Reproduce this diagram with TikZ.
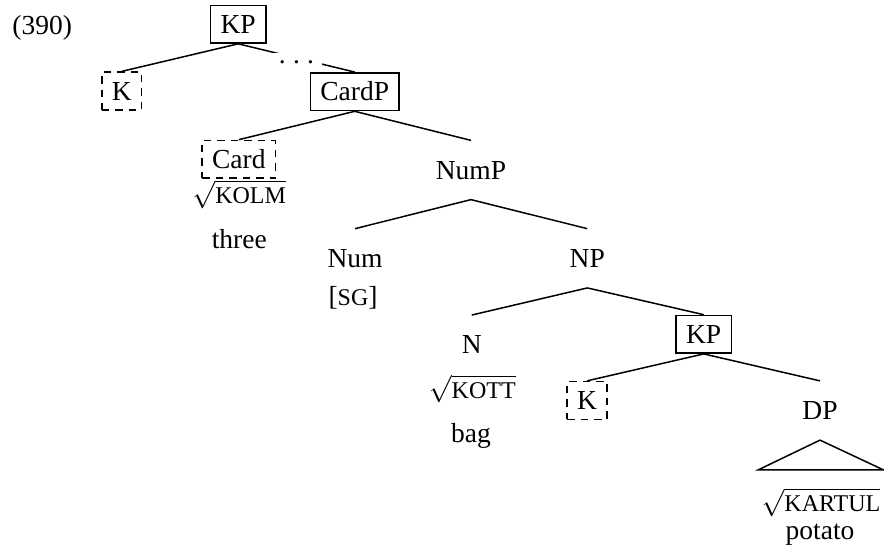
\documentclass[tikz,border=0pt]{standalone}
\usepackage{amsmath}
\usepackage{fontspec}
\setmainfont{Liberation Serif}
\newcommand{\scword}[1]{{\fontsize{9.6pt}{11pt}\selectfont #1}}
\newcommand{\rootof}[1]{$\sqrt{\text{\scword{#1}}}$}
\tikzset{
    synlabel/.style={inner xsep=4pt, inner ysep=8pt, text height=7.3pt, text depth=0pt},
    synbox/.style={draw, line width=0.6pt, inner xsep=4pt, inner ysep=3.9pt, text height=7.3pt, text depth=0pt},
    syndash/.style={synbox, dash pattern=on 3pt off 2.4pt},
    synbranch/.style={line width=0.6pt},
    synsub/.style={anchor=base, inner sep=0pt},
    dotgap/.style={fill=white, inner xsep=3.3pt, inner ysep=3pt, yshift=-1.8pt}
}

\begin{document}
\begin{tikzpicture}[x=0.4pt, y=-0.4pt, font=\fontsize{11pt}{13pt}\selectfont]
    \useasboundingbox (0,0) rectangle (884,550);
    \node[anchor=base west, inner sep=0pt] (exnum) at (12,34.5) {(390)};

    % Upper spine
    \node[synbox] (KP1) at (238.2,24.2) {KP};
    \node[syndash] (K1) at (121.8,91) {K};
    \node[synbox] (CardP) at (354.7,91.7) {CardP};
    \node[syndash] (Card) at (238.8,159.3) {Card};
    \node[synlabel] (NumP) at (471,170) {NumP};
    \node[synlabel] (Num) at (355,258.3) {Num};
    \node[synlabel] (NP) at (587.3,258.3) {NP};

    % Lower spine
    \node[synlabel] (N) at (471.7,344.7) {N};
    \node[synbox] (KP2) at (703.7,334.3) {KP};
    \node[syndash] (K2) at (587,400.5) {K};
    \node[synlabel] (DP) at (820,410.5) {DP};

    % Roots and glosses
    \node[synsub] (kolm) at (239.2,204) {\rootof{KOLM}};
    \node[synsub] (three) at (239.3,248.3) {three};
    \node[synsub] (sg) at (353,305.5) {[\scword{SG}]};
    \node[synsub] (kott) at (472.3,398.3) {\rootof{KOTT}};
    \node[synsub] (bag) at (471,442.5) {bag};
    \node[synsub] (kartul) at (821,512) {\rootof{KARTUL}};
    \node[synsub] (potato) at (820,540) {potato};

    % Branches
    \draw[synbranch] (KP1.south) -- (K1.north);
    \draw[synbranch] (KP1.south) -- node[dotgap] {.\hspace{2.9pt}.\hspace{2.9pt}.} (CardP.north);
    \draw[synbranch] (CardP.south) -- (Card.north);
    \draw[synbranch] (CardP.south) -- (NumP.north);
    \draw[synbranch] (NumP.south) -- (Num.north);
    \draw[synbranch] (NumP.south) -- (NP.north);
    \draw[synbranch] (NP.south) -- (N.north);
    \draw[synbranch] (NP.south) -- (KP2.north);
    \draw[synbranch] (KP2.south) -- (K2.north);
    \draw[synbranch] (KP2.south) -- (DP.north);

    % Roof over DP
    \draw[synbranch] (DP.south) -- ++(-61.7,29.7) -- ++(125,0) -- cycle;
\end{tikzpicture}
\end{document}
